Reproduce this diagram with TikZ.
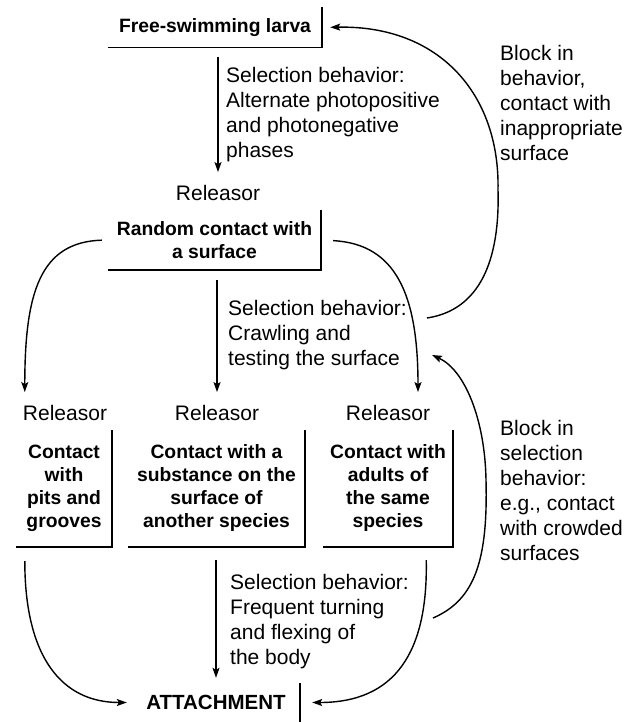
\documentclass[tikz,border=0pt]{standalone}
\usepackage{fontspec}
\setmainfont{Liberation Sans}
\usetikzlibrary{arrows.meta}

\begin{document}
\begin{tikzpicture}[x=1pt, y=-1pt,
    box/.style={font=\bfseries\fontsize{19.3}{23}\selectfont, align=center, inner sep=0pt},
    lbl/.style={font=\fontsize{21}{25}\selectfont, align=left, inner sep=0pt, anchor=north west},
    rel/.style={font=\fontsize{21}{25}\selectfont, inner sep=0pt},
    edgeln/.style={line width=1.6pt},
    arr/.style={line width=1.4pt, -{Stealth[length=10pt, width=7pt, inset=2pt]}},
]
\useasboundingbox (0,0) rectangle (638,722);

% top of the chain
\node[box, minimum width=214, minimum height=40] (larva) at (215,27.5) {Free-swimming larva};
\node[rel] (rel0) at (218,193) {Releasor};
\node[box, minimum width=213, minimum height=60] (random) at (214.5,240)
    {Random contact with\\a surface};

% three releasors
\node[rel] (rel1) at (65,413) {Releasor};
\node[rel] (rel2) at (217,413) {Releasor};
\node[rel] (rel3) at (388,413) {Releasor};
\node[box, minimum width=96, minimum height=117] (pits) at (64,488.5)
    {Contact\\with\\pits and\\grooves};
\node[box, minimum width=177, minimum height=117] (subst) at (216.5,488.5)
    {Contact with a\\substance on the\\surface of\\another species};
\node[box, minimum width=130, minimum height=117] (adults) at (388,488.5)
    {Contact with\\adults of\\the same\\species};

% end point
\node[box, font=\bfseries\fontsize{20.5}{24}\selectfont, minimum width=168, minimum height=39]
    (attach) at (216,702.5) {ATTACHMENT};

% bottom and right edges of the boxes
\foreach \n in {larva,random,pits,subst,adults}
    \draw[edgeln] (\n.south west) -- (\n.south east) -- (\n.north east);
\draw[edgeln] (attach.north east) -- (attach.south east);

% selection behaviour labels
\node[lbl] (selA) at (226,67.5)
    {Selection behavior:\\Alternate photopositive\\and photonegative\\phases};
\node[lbl] (selB) at (228,300.5)
    {Selection behavior:\\Crawling and\\testing the surface};
\node[lbl] (selC) at (230,574.5)
    {Selection behavior:\\Frequent turning\\and flexing of\\the body};

% block labels
\node[lbl] (blockA) at (500,45.5)
    {Block in\\behavior,\\contact with\\inappropriate\\surface};
\node[lbl] (blockB) at (500,420.5)
    {Block in\\selection\\behavior:\\e.g., contact\\with crowded\\surfaces};

% main arrows
\draw[arr, shorten <=9pt, shorten >=13pt] (larva.south -| rel0) -- (rel0.north);
\draw[arr, shorten <=6pt, shorten >=13pt] (random.west)
    .. controls +(-68,2) and +(0,-112) .. ([xshift=2pt]rel1.north west);
\draw[arr, shorten <=10pt, shorten >=13pt] (random.south -| rel2) -- (rel2.north);
\draw[arr, shorten <=12pt, shorten >=13pt] (random.east)
    .. controls +(75,4) and +(0,-110) .. ([xshift=30pt]rel3.north);

% into attachment
\draw[arr, shorten <=14pt, shorten >=5pt] ([xshift=9pt]pits.south west)
    .. controls +(0,110) and +(-70,0) .. (attach.west);
\draw[arr, shorten <=13pt, shorten >=5pt] (subst.south -| attach) -- (attach.north);
\draw[arr, shorten <=13pt, shorten >=12pt] ([xshift=38pt]adults.south)
    .. controls +(2,105) and +(95,0) .. (attach.east);

% feedback loops
\coordinate (blk1) at (427,318);
\draw[arr, shorten >=8pt] (blk1) .. controls (480,310) and (500,260) .. (498,190)
    .. controls (500,95) and (440,25) .. (larva.east);
\coordinate (blk2) at (433,618);
\coordinate (retest) at (432,355);
\draw[arr] (blk2) .. controls (475,600) and (488,560) .. (486,480)
    .. controls (485,420) and (465,370) .. (retest);

\end{tikzpicture}
\end{document}
